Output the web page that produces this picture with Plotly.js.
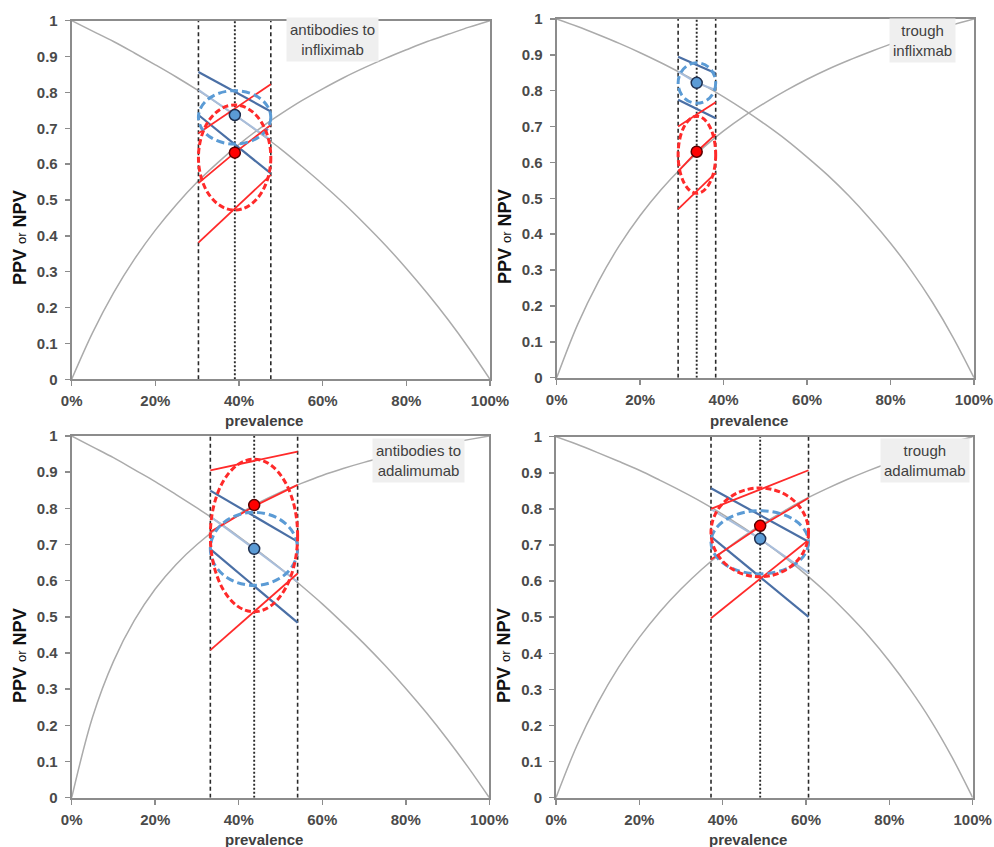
<!DOCTYPE html>
<html>
<head>
<meta charset="utf-8">
<script src="https://cdn.plot.ly/plotly-3.0.1.min.js"></script>
<style>html,body{margin:0;padding:0;background:#fff;}#chart{width:994px;height:847px;}</style>
</head>
<body>
<div id="chart"></div>
<script>
// ---------- DATA ----------
// prevalence grid for the grey PPV / NPV curves
const prevGrid = [0, 0.05, 0.1, 0.15, 0.2, 0.25, 0.3, 0.35, 0.4, 0.45, 0.5, 0.55, 0.6, 0.65, 0.7, 0.75, 0.8, 0.85, 0.9, 0.95, 1];

// Panel 1: antibodies to infliximab
const ppvCurve1 = [0, 0.130, 0.241, 0.335, 0.416, 0.487, 0.550, 0.605, 0.655, 0.700, 0.740, 0.777, 0.810, 0.841, 0.869, 0.895, 0.919, 0.942, 0.962, 0.982, 1];
const npvCurve1 = [1, 0.971, 0.942, 0.910, 0.877, 0.843, 0.807, 0.769, 0.729, 0.686, 0.642, 0.594, 0.544, 0.491, 0.434, 0.374, 0.309, 0.240, 0.166, 0.086, 0];
const prev1 = [0.303, 0.390, 0.476];          // lower CI, point, upper CI
const npvUp1 = [0.857, 0.747];
const npvMid1 = [0.807, 0.737, 0.667];
const npvLo1 = [0.737, 0.574];
const ppvUp1 = [0.686, 0.823];
const ppvMid1 = [0.547, 0.632, 0.709];
const ppvLo1 = [0.381, 0.570];
const npvPoint1 = 0.737;
const ppvPoint1 = 0.632;
const npvEllipse1 = [0.656, 0.805];
const ppvEllipse1 = [0.472, 0.765];

// Panel 2: trough infliximab
const ppvCurve2 = [0, 0.148, 0.268, 0.368, 0.452, 0.524, 0.586, 0.640, 0.688, 0.730, 0.767, 0.801, 0.832, 0.860, 0.885, 0.908, 0.930, 0.949, 0.967, 0.984, 1];
const npvCurve2 = [1, 0.979, 0.956, 0.932, 0.906, 0.878, 0.848, 0.817, 0.783, 0.746, 0.706, 0.663, 0.615, 0.564, 0.507, 0.444, 0.375, 0.298, 0.211, 0.112, 0];
const prev2 = [0.291, 0.3355, 0.381];
const npvUp2 = [0.895, 0.849];
const npvMid2 = [0.853, 0.822, 0.802];
const npvLo2 = [0.775, 0.723];
const ppvUp2 = [0.700, 0.768];
const ppvMid2 = [0.575, 0.630, 0.679];
const ppvLo2 = [0.470, 0.571];
const npvPoint2 = 0.822;
const ppvPoint2 = 0.630;
const npvEllipse2 = [0.765, 0.878];
const ppvEllipse2 = [0.514, 0.729];

// Panel 3: antibodies to adalimumab
const ppvCurve3 = [0, 0.223, 0.377, 0.490, 0.577, 0.645, 0.700, 0.746, 0.784, 0.817, 0.845, 0.869, 0.891, 0.910, 0.927, 0.942, 0.956, 0.969, 0.980, 0.990, 1];
const npvCurve3 = [1, 0.970, 0.940, 0.907, 0.874, 0.838, 0.801, 0.763, 0.722, 0.679, 0.634, 0.586, 0.536, 0.482, 0.426, 0.366, 0.302, 0.234, 0.161, 0.083, 0];
const prev3 = [0.332, 0.437, 0.541];
const npvUp3 = [0.849, 0.708];
const npvMid3 = [0.777, 0.688, 0.597];
const npvLo3 = [0.687, 0.484];
const ppvUp3 = [0.905, 0.957];
const ppvMid3 = [0.735, 0.806, 0.865];
const ppvLo3 = [0.408, 0.620];
const npvPoint3 = 0.688;
const ppvPoint3 = 0.809;
const npvEllipse3 = [0.587, 0.789];
const ppvEllipse3 = [0.514, 0.936];

// Panel 4: trough adalimumab
const ppvCurve4 = [0, 0.144, 0.262, 0.361, 0.444, 0.516, 0.578, 0.633, 0.681, 0.724, 0.762, 0.796, 0.828, 0.856, 0.882, 0.906, 0.928, 0.948, 0.966, 0.984, 1];
const npvCurve4 = [1, 0.979, 0.956, 0.932, 0.907, 0.879, 0.850, 0.819, 0.785, 0.748, 0.708, 0.665, 0.618, 0.567, 0.510, 0.448, 0.378, 0.300, 0.213, 0.113, 0];
const prev4 = [0.372, 0.490, 0.606];
const npvUp4 = [0.857, 0.709];
const npvMid4 = [0.799, 0.717, 0.622];
const npvLo4 = [0.723, 0.501];
const ppvUp4 = [0.800, 0.907];
const ppvMid4 = [0.660, 0.751, 0.830];
const ppvLo4 = [0.497, 0.714];
const npvPoint4 = 0.717;
const ppvPoint4 = 0.753;
const npvEllipse4 = [0.620, 0.795];
const ppvEllipse4 = [0.612, 0.858];

const panelLabels = ["antibodies to<br>infliximab", "trough<br>inflixmab", "antibodies to<br>adalimumab", "trough<br>adalimumab"];
const xTickVals = [0, 0.2, 0.4, 0.6, 0.8, 1];
const yTickVals = [0, 0.1, 0.2, 0.3, 0.4, 0.5, 0.6, 0.7, 0.8, 0.9, 1];

// ---------- BUILD ----------
const W = 994, H = 847;
const panels = [
  {n:'', ppv:ppvCurve1, npv:npvCurve1, prev:prev1, bU:npvUp1, bM:npvMid1, bL:npvLo1, rU:ppvUp1, rM:ppvMid1, rL:ppvLo1, bP:npvPoint1, rP:ppvPoint1, bE:npvEllipse1, rE:ppvEllipse1,
   box:[71.7, 490, 20.7, 379.3], lbl:[332.5, 40], ytl:[20, 238], xtl:[264, 420]},
  {n:'2', ppv:ppvCurve2, npv:npvCurve2, prev:prev2, bU:npvUp2, bM:npvMid2, bL:npvLo2, rU:ppvUp2, rM:ppvMid2, rL:ppvLo2, bP:npvPoint2, rP:ppvPoint2, bE:npvEllipse2, rE:ppvEllipse2,
   box:[556.7, 974, 19, 377.7], lbl:[922.5, 41], ytl:[505, 237], xtl:[749, 420]},
  {n:'3', ppv:ppvCurve3, npv:npvCurve3, prev:prev3, bU:npvUp3, bM:npvMid3, bL:npvLo3, rU:ppvUp3, rM:ppvMid3, rL:ppvLo3, bP:npvPoint3, rP:ppvPoint3, bE:npvEllipse3, rE:ppvEllipse3,
   box:[71.7, 489.3, 436, 797.7], lbl:[418.5, 460], ytl:[20, 656], xtl:[264, 839]},
  {n:'4', ppv:ppvCurve4, npv:npvCurve4, prev:prev4, bU:npvUp4, bM:npvMid4, bL:npvLo4, rU:ppvUp4, rM:ppvMid4, rL:ppvLo4, bP:npvPoint4, rP:ppvPoint4, bE:npvEllipse4, rE:ppvEllipse4,
   box:[556, 972.7, 436.7, 797.7], lbl:[925, 460], ytl:[504, 656], xtl:[748, 839]}
];

const GREY = '#ababab', DARKBLUE = '#4a6fa5', MIDBLUE = '#a9bedb', LIGHTBLUE = '#5b9bd5', RED = '#ff2a2a', VLINE = '#2a2a2a';
const FONT = 'Liberation Sans, Arial, sans-serif';
const traces = [], shapes = [], annotations = [];
const layout = {
  width: W, height: H, margin: {l:0, r:0, t:0, b:0},
  paper_bgcolor: '#ffffff', plot_bgcolor: '#ffffff', showlegend: false,
  font: {family: FONT, color: '#404040'}
};

panels.forEach((p, i) => {
  const xa = 'x' + p.n, ya = 'y' + p.n;
  const base = {xaxis: xa, yaxis: ya, mode: 'lines', hoverinfo: 'skip'};
  const lo = p.prev[0], pt = p.prev[1], hi = p.prev[2];
  // grey curves
  traces.push(Object.assign({}, base, {x: prevGrid, y: p.ppv, line: {color: GREY, width: 1.5, shape: 'spline', smoothing: 1}}));
  traces.push(Object.assign({}, base, {x: prevGrid, y: p.npv, line: {color: GREY, width: 1.5, shape: 'spline', smoothing: 1}}));
  // vertical prevalence lines
  traces.push(Object.assign({}, base, {x: [lo, lo], y: [0, 1], line: {color: VLINE, width: 1.6, dash: '4px,3px'}}));
  traces.push(Object.assign({}, base, {x: [hi, hi], y: [0, 1], line: {color: VLINE, width: 1.6, dash: '4px,3px'}}));
  traces.push(Object.assign({}, base, {x: [pt, pt], y: [0, 1], line: {color: VLINE, width: 1.9, dash: '2px,2px'}}));
  // NPV band
  traces.push(Object.assign({}, base, {x: [lo, pt, hi], y: p.bM, line: {color: MIDBLUE, width: 2}}));
  traces.push(Object.assign({}, base, {x: [lo, hi], y: p.bU, line: {color: DARKBLUE, width: 2.2}}));
  traces.push(Object.assign({}, base, {x: [lo, hi], y: p.bL, line: {color: DARKBLUE, width: 2.2}}));
  // PPV band
  traces.push(Object.assign({}, base, {x: [lo, pt, hi], y: p.rM, line: {color: RED, width: 1.8}}));
  traces.push(Object.assign({}, base, {x: [lo, hi], y: p.rU, line: {color: RED, width: 1.8}}));
  traces.push(Object.assign({}, base, {x: [lo, hi], y: p.rL, line: {color: RED, width: 1.8}}));
  // ellipses
  shapes.push({type: 'circle', xref: xa, yref: ya, x0: lo, x1: hi, y0: p.bE[0], y1: p.bE[1], layer: 'above',
               line: {color: LIGHTBLUE, width: 3, dash: '8px,4px'}});
  shapes.push({type: 'circle', xref: xa, yref: ya, x0: lo, x1: hi, y0: p.rE[0], y1: p.rE[1], layer: 'above',
               line: {color: RED, width: 3, dash: '6px,3px'}});
  // point estimates
  traces.push({xaxis: xa, yaxis: ya, mode: 'markers', hoverinfo: 'skip', x: [pt], y: [p.bP],
               marker: {size: 11, color: LIGHTBLUE, line: {color: '#1f3050', width: 1.5}}});
  traces.push({xaxis: xa, yaxis: ya, mode: 'markers', hoverinfo: 'skip', x: [pt], y: [p.rP],
               marker: {size: 11, color: '#ff0000', line: {color: '#5a0000', width: 1.5}}});

  // axes
  const axCommon = {showgrid: false, zeroline: false, showline: true, mirror: true, linecolor: '#8c8c8c', linewidth: 2,
                    ticks: 'outside', ticklen: 5, tickwidth: 1.5, tickcolor: '#8c8c8c',
                    tickfont: {family: FONT, size: 15, color: '#4a4a4a', weight: 'bold'}, fixedrange: true};
  layout['xaxis' + p.n] = Object.assign({}, axCommon, {
    domain: [p.box[0] / W, p.box[1] / W], range: [0, 1], anchor: ya,
    tickmode: 'array', tickvals: xTickVals, tickformat: '.0%', ticklabelstandoff: 2});
  layout['yaxis' + p.n] = Object.assign({}, axCommon, {
    domain: [1 - p.box[3] / H, 1 - p.box[2] / H], range: [0, 1], anchor: xa,
    tickmode: 'array', tickvals: yTickVals, ticklabelstandoff: 4});

  // label box
  annotations.push({xref: 'paper', yref: 'paper', x: p.lbl[0] / W, y: 1 - p.lbl[1] / H, xanchor: 'center', yanchor: 'middle',
    text: panelLabels[i], showarrow: false, align: 'center',
    font: {family: FONT, size: 15, color: '#404040'},
    bgcolor: '#efefef', borderpad: 3});
  // y title
  annotations.push({xref: 'paper', yref: 'paper', x: p.ytl[0] / W, y: 1 - p.ytl[1] / H, xanchor: 'center', yanchor: 'middle',
    textangle: -90, showarrow: false,
    text: "<b>PPV</b> <span style='font-size:13px'>or</span> <b>NPV</b>",
    font: {family: FONT, size: 18, color: '#111111'}});
  // x title
  annotations.push({xref: 'paper', yref: 'paper', x: p.xtl[0] / W, y: 1 - p.xtl[1] / H, xanchor: 'center', yanchor: 'middle',
    showarrow: false, text: '<b>prevalence</b>',
    font: {family: FONT, size: 15, color: '#404040'}});
});

layout.shapes = shapes;
layout.annotations = annotations;
Plotly.newPlot('chart', traces, layout, {staticPlot: true, displayModeBar: false});
</script>
</body>
</html>
